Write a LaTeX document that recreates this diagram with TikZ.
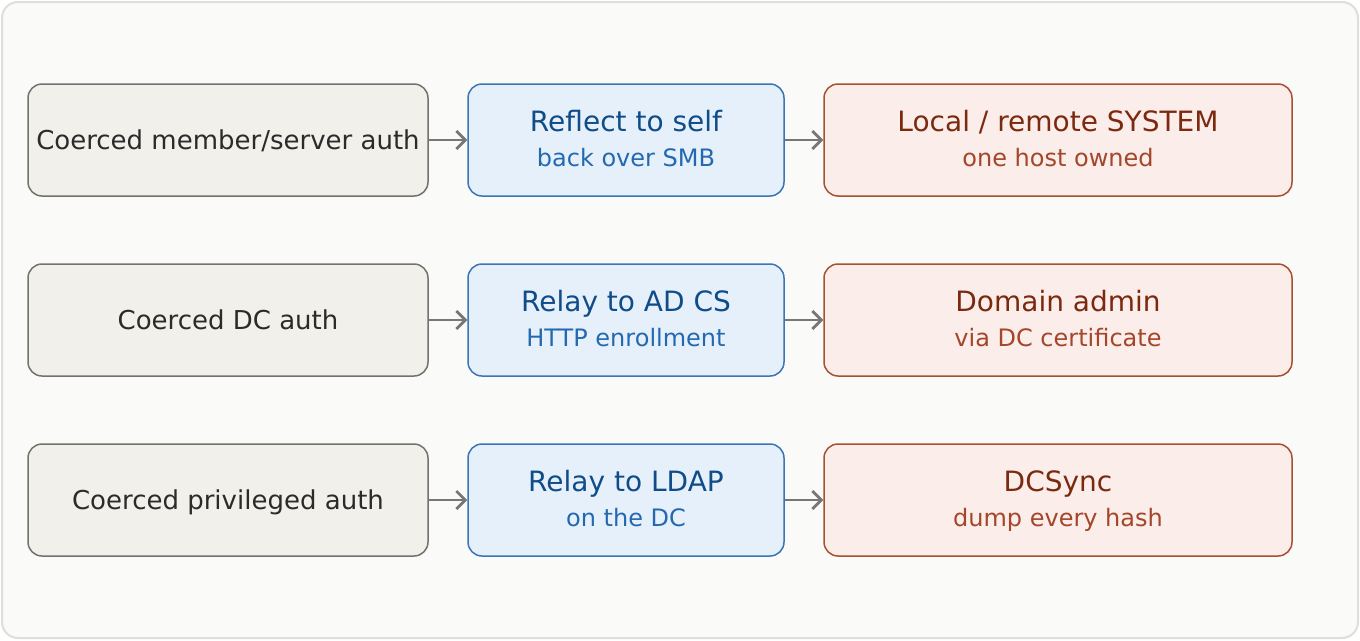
\documentclass[tikz,border=0pt]{standalone}
\usepackage{fontspec}
\setmainfont{DejaVu Sans}
\usetikzlibrary{arrows.meta}
\definecolor{bgfill}{HTML}{FAFAF8}
\definecolor{bgline}{HTML}{E0DED8}
\definecolor{srcfill}{HTML}{F2F0EA}
\definecolor{srcline}{HTML}{75726D}
\definecolor{srctext}{HTML}{2B2B2B}
\definecolor{midfill}{HTML}{E6F0FB}
\definecolor{midline}{HTML}{3A75B5}
\definecolor{midtitle}{HTML}{0F4C88}
\definecolor{midsub}{HTML}{2469B0}
\definecolor{dstfill}{HTML}{FBEDE9}
\definecolor{dstline}{HTML}{A9502F}
\definecolor{dsttitle}{HTML}{7B2A10}
\definecolor{dstsub}{HTML}{A4462A}
\definecolor{arrowc}{HTML}{777777}
\tikzset{
  boxbase/.style={rectangle, rounded corners=14pt, line width=1.5pt, inner sep=0pt, minimum height=112pt},
  srcbox/.style={boxbase, draw=srcline, fill=srcfill, minimum width=400pt},
  midbox/.style={boxbase, draw=midline, fill=midfill, minimum width=316pt},
  dstbox/.style={boxbase, draw=dstline, fill=dstfill, minimum width=468pt},
  srct/.style={text=srctext, font=\fontsize{26}{30}\selectfont, inner sep=0pt, anchor=base},
  midt/.style={text=midtitle, font=\fontsize{28}{32}\selectfont, inner sep=0pt, anchor=base},
  mids/.style={text=midsub, font=\fontsize{24}{28}\selectfont, inner sep=0pt, anchor=base},
  dstt/.style={text=dsttitle, font=\fontsize{28}{32}\selectfont, inner sep=0pt, anchor=base},
  dsts/.style={text=dstsub, font=\fontsize{24}{28}\selectfont, inner sep=0pt, anchor=base},
  flow/.style={draw=arrowc, line width=2.8pt, -{Straight Barb[length=9pt,width=18pt,line width=2.8pt]}},
}
\begin{document}
\begin{tikzpicture}[x=1pt,y=-1pt]
\useasboundingbox (0,0) rectangle (1360,640);
\draw[fill=bgfill, draw=bgline, line width=2pt, rounded corners=16pt] (2,2) rectangle (1358,638);

% row 1
\node[srcbox] (s1) at (228,140) {};
\node[srct] (s1t) at (228,149) {Coerced member/server auth};
\node[midbox] (m1) at (626,140) {};
\node[midt] (m1t) at (626,131) {Reflect to self};
\node[mids] (m1s) at (626,166) {back over SMB};
\node[dstbox] (d1) at (1058,140) {};
\node[dstt] (d1t) at (1058,131) {Local / remote SYSTEM};
\node[dsts] (d1s) at (1058,166) {one host owned};

% row 2
\node[srcbox] (s2) at (228,320) {};
\node[srct] (s2t) at (228,329) {Coerced DC auth};
\node[midbox] (m2) at (626,320) {};
\node[midt] (m2t) at (626,311) {Relay to AD CS};
\node[mids] (m2s) at (626,346) {HTTP enrollment};
\node[dstbox] (d2) at (1058,320) {};
\node[dstt] (d2t) at (1058,311) {Domain admin};
\node[dsts] (d2s) at (1058,346) {via DC certificate};

% row 3
\node[srcbox] (s3) at (228,500) {};
\node[srct] (s3t) at (228,509) {Coerced privileged auth};
\node[midbox] (m3) at (626,500) {};
\node[midt] (m3t) at (626,491) {Relay to LDAP};
\node[mids] (m3s) at (626,526) {on the DC};
\node[dstbox] (d3) at (1058,500) {};
\node[dstt] (d3t) at (1058,491) {DCSync};
\node[dsts] (d3s) at (1058,526) {dump every hash};

\foreach \r in {1,2,3}{
  \draw[flow] (s\r.east) -- (m\r.west);
  \draw[flow] (m\r.east) -- (d\r.west);
}
\end{tikzpicture}
\end{document}
